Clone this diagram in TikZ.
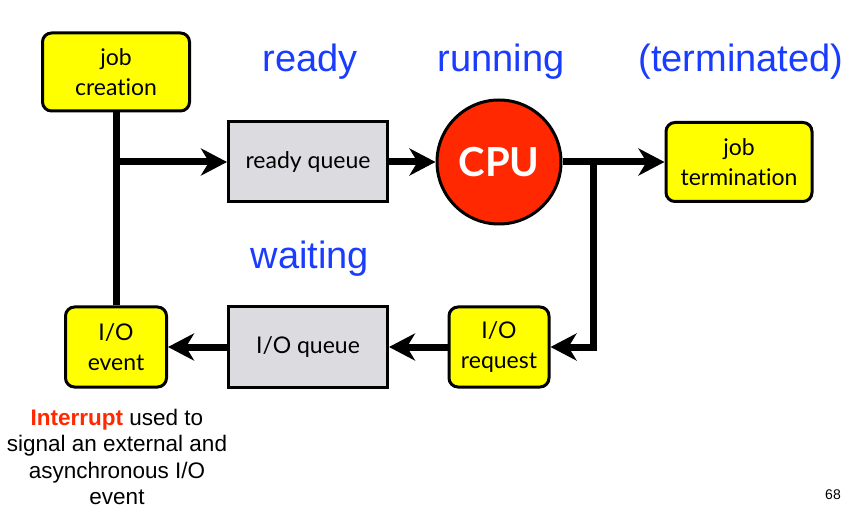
\documentclass[tikz,border=0pt]{standalone}
\usepackage{fontspec}
\setmainfont{Lato}[Ligatures={NoCommon}]
\setsansfont{Liberation Sans}
\usetikzlibrary{arrows.meta,positioning}
\definecolor{boxyellow}{RGB}{255,255,0}
\definecolor{queuegray}{RGB}{220,220,224}
\definecolor{cpured}{RGB}{255,40,0}
\definecolor{statblue}{RGB}{25,60,255}

\begin{document}
\begin{tikzpicture}[x=1pt,y=-1pt,
  jobbox/.style={draw,line width=3pt,rounded corners=9pt,fill=boxyellow,align=center,inner sep=0pt,font=\fontsize{23}{30}\selectfont},
  queuebox/.style={draw,line width=3pt,fill=queuegray,inner sep=0pt,minimum width=159pt,minimum height=80pt,font=\fontsize{23}{30}\selectfont},
  state/.style={text=statblue,font=\sffamily\fontsize{38}{40}\selectfont},
  flow/.style={line width=7pt},
  arrow/.style={flow,-{Stealth[length=26pt,width=27pt,inset=8pt]}}]
\useasboundingbox (0,0) rectangle (852,513);

% states
\node[state] (ready) at (310,62) {ready};
\node[state] (running) at (501,62) {running};
\node[state] (terminated) at (741,62) {(terminated)};
\node[state] (waiting) at (310,259) {waiting};

% top row
\node[jobbox,minimum width=147pt,minimum height=78pt] (create) at (116,72) {job\\creation};
\node[queuebox] (rq) at (308,162) {ready queue};
\node[circle,draw,line width=3pt,fill=cpured,minimum size=124pt,inner sep=0pt,text=white,font=\bfseries\fontsize{40}{40}\selectfont] (cpu) at (499,162) {CPU};
\node[jobbox,minimum width=146pt,minimum height=79pt] (term) at (739,162) {job\\termination};

% bottom row
\node[jobbox,minimum width=101pt,minimum height=80pt] (ioev) at (116,347) {I/O\\event};
\node[queuebox] (ioq) at (308,347) {I/O queue};
\node[jobbox,minimum width=100pt,minimum height=80pt] (ioreq) at (499,347) {I/O\\request};

% connectors
\coordinate (split) at (create.south |- rq.west);
\coordinate (fork) at (593,162);
\draw[flow] (create.south) -- (ioev.north);
\draw[arrow] (split) -- (rq.west);
\draw[arrow] (rq.east) -- (cpu.west);
\draw[arrow] (cpu.east) -- (term.west);
\draw[arrow] (fork) |- (ioreq.east);
\draw[arrow] (ioreq.west) -- (ioq.east);
\draw[arrow] (ioq.west) -- (ioev.east);

% caption
\node[align=center,font=\sffamily\fontsize{22.5}{26.5}\selectfont] (note) at (117,457)
  {\textcolor{cpured}{\bfseries Interrupt} used to\\signal an external and\\asynchronous I/O\\event};
\node[font=\sffamily\fontsize{14}{16}\selectfont] (page) at (833,495) {68};
\end{tikzpicture}
\end{document}
